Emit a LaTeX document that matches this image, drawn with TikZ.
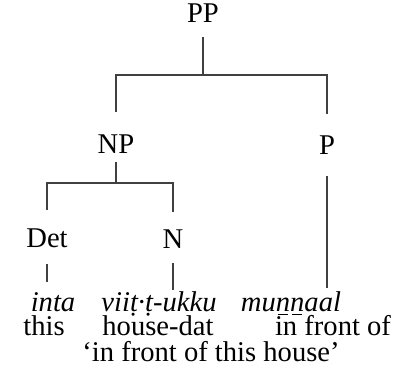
\documentclass[tikz,border=0pt]{standalone}
\usepackage{fontspec}
\setmainfont{Liberation Serif}
% short underline under one letter
\newcommand\ulletter[1]{{\setbox0\hbox{#1}\rlap{\kern.07em\rule[-1.8pt]{\dimexpr\wd0-.14em\relax}{0.5pt}}#1}}
\begin{document}
\begin{tikzpicture}[x=0.015cm, y=-0.015cm,
        cat/.style={anchor=base, inner sep=0pt, font=\fontsize{12.2}{14}\selectfont},
        branch/.style={line width=0.55pt, draw=black!75}]
        \useasboundingbox (0,0) rectangle (401,382);
        % categories
        \node[cat] (pp) at (203,22) {PP};
        \node[cat] (np) at (116,153) {NP};
        \node[cat] (p) at (327,154) {P};
        \node[cat] (det) at (47,247) {Det};
        \node[cat] (n) at (173,248) {N};
        % words, glosses
        \node[cat] (inta) at (53,311) {\textit{inta}};
        \node[cat] (viit) at (159,311) {\textit{viiṭ·ṭ-ukku}};
        \node[cat] (munnaal) at (291,311) {\textit{mu\ulletter{n}\ulletter{n}aal}};
        \node[cat] (this) at (44,335) {this};
        \node[cat] (house) at (158,335) {house-dat};
        \node[cat] (infront) at (333,335) {in front of};
        \node[cat] (transl) at (211,361) {‘in front of this house’};
        % branches
        \coordinate (ppbar) at (203,75);
        \coordinate (npbar) at (116,183);
        \draw[branch, shorten <=6.4pt] (pp.south) -- (ppbar);
        \draw[branch, shorten <=9.4pt, shorten >=9pt] (np.north) |- (ppbar) -| (p.north);
        \draw[branch, shorten <=3.8pt] (np.south) -- (npbar);
        \draw[branch, shorten <=7.5pt, shorten >=7.3pt] (det.north) |- (npbar) -| (n.north);
        \draw[branch, shorten <=6.8pt, shorten >=4pt] (det.south) -- (det.south |- inta.north);
        \draw[branch, shorten <=6.4pt, shorten >=0.4pt] (n.south) -- (n.south |- viit.north);
        \draw[branch, shorten <=9pt, shorten >=1.3pt] (p.south) -- (p.south |- munnaal.north);
\end{tikzpicture}
\end{document}
